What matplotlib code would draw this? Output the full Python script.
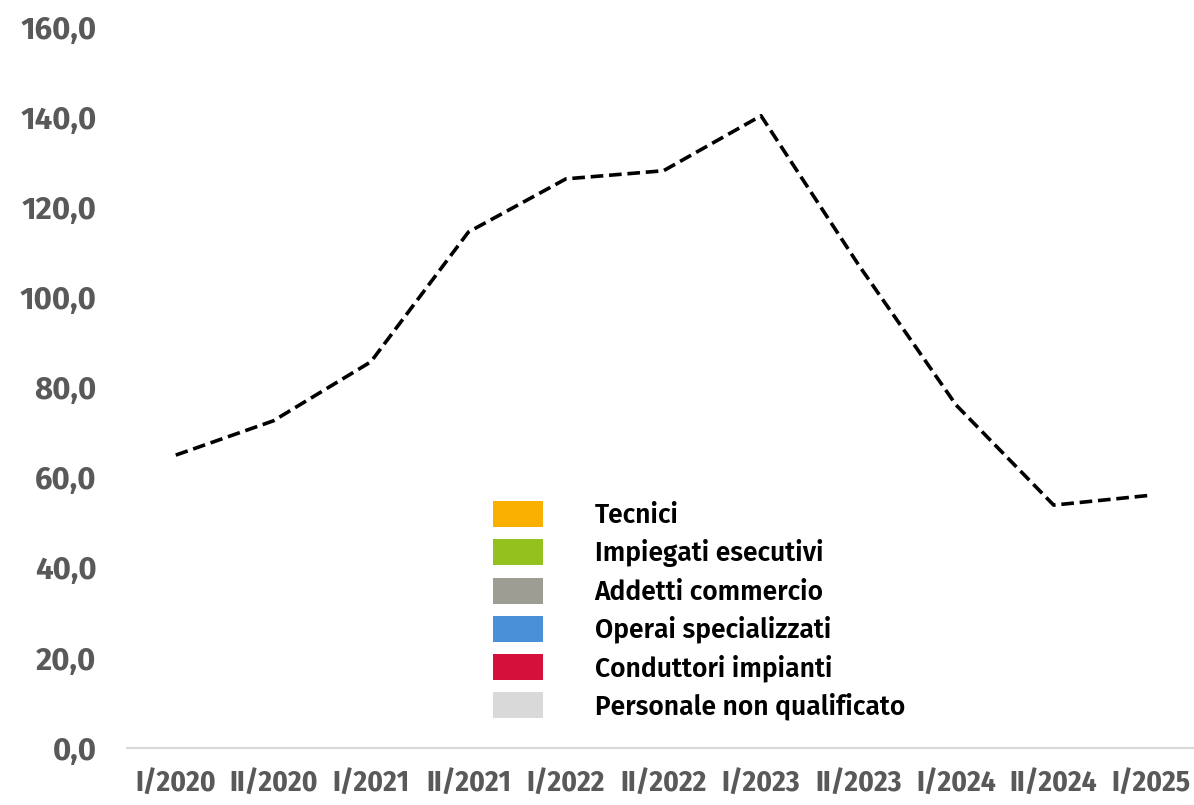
import matplotlib
matplotlib.use('Agg')
import matplotlib.pyplot as plt
from matplotlib.patches import Patch
from matplotlib.ticker import FuncFormatter

periods = ['I/2020', 'II/2020', 'I/2021', 'II/2021', 'I/2022', 'II/2022',
           'I/2023', 'II/2023', 'I/2024', 'II/2024', 'I/2025']
totale = [65.0, 72.6, 85.7, 114.5, 126.3, 128.1, 140.3, 107.2, 76.1, 53.9, 56.1]

categorie = ['Tecnici', 'Impiegati esecutivi', 'Addetti commercio',
             'Operai specializzati', 'Conduttori impianti', 'Personale non qualificato']
colori = ['#F9B000', '#95C11F', '#9D9D93', '#4A90D9', '#D5103A', '#D9D9D9']

plt.rcParams['font.family'] = ['Fira Sans Condensed', 'DejaVu Sans']
plt.rcParams['font.weight'] = 'bold'

fig = plt.figure(figsize=(11.94, 8.05), dpi=100)
ax = fig.add_axes([127 / 1194, 57 / 805, 1073 / 1194, 721 / 805])

x = range(len(periods))
ax.plot(x, totale, color='black', linewidth=2.6, linestyle=(0, (3.5, 1.6)),
        dash_capstyle='butt', zorder=3)

ax.set_xlim(-0.5, len(periods) - 0.5)
ax.set_ylim(0, 160)
ax.set_yticks(range(0, 161, 20))
ax.yaxis.set_major_formatter(FuncFormatter(lambda v, p: f'{v:.1f}'.replace('.', ',')))
ax.set_xticks(list(x))
ax.set_xticklabels(periods)

for s in ['top', 'right', 'left']:
    ax.spines[s].set_visible(False)
ax.spines['bottom'].set_color('#D9D9D9')
ax.spines['bottom'].set_linewidth(1.5)
ax.tick_params(axis='both', length=0, colors='#595959', labelsize=21)
ax.tick_params(axis='y', pad=22)
ax.tick_params(axis='x', pad=16)
for lab in ax.get_yticklabels():
    lab.set_fontfamily(['Fira Sans', 'DejaVu Sans'])
    lab.set_fontsize(22.5)

handles = [Patch(facecolor=c, edgecolor='none') for c in colori]
fig.legend(handles, categorie, loc='upper left',
           bbox_to_anchor=(493 / 1194, 1 - 501 / 805), bbox_transform=fig.transFigure,
           frameon=False, prop={'family': ['Fira Sans', 'DejaVu Sans'], 'weight': 600, 'size': 19},
           handlelength=1.9, handleheight=1.14, handletextpad=1.95, labelspacing=0.40,
           borderpad=0, borderaxespad=0)

fig.savefig('out.png', dpi=100)
